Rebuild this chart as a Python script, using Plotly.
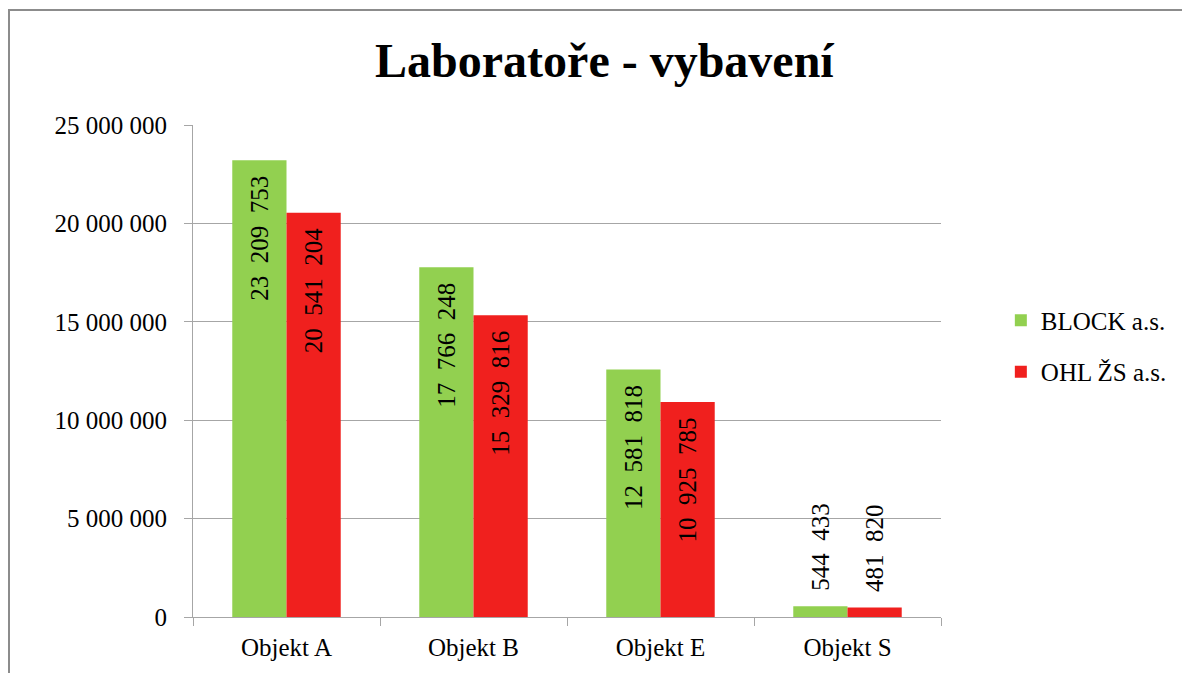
import plotly.graph_objects as go

categories = ["Objekt A", "Objekt B", "Objekt E", "Objekt S"]
block_values = [23209753, 17766248, 12581818, 544433]
ohl_values = [20541204, 15329816, 10925785, 481820]
series_names = ["BLOCK a.s.", "OHL ŽS a.s."]
y_ticks = [0, 5000000, 10000000, 15000000, 20000000, 25000000]

GREEN = "#92D050"
RED = "#F0201E"
FONT = "Liberation Serif"
NB = "\u00a0"


def fmt(v):
    return f"{v:,}".replace(",", NB * 2)


def positions(values):
    return ["inside" if v > 2000000 else "outside" for v in values]


def labels(values):
    out = []
    for v, p in zip(values, positions(values)):
        out.append(fmt(v) + NB * 2 if p == "inside" else NB * 2 + fmt(v))
    return out


fig = go.Figure()
for name, vals, col, grp in [(series_names[0], block_values, GREEN, "g1"),
                             (series_names[1], ohl_values, RED, "g2")]:
    fig.add_trace(go.Bar(
        x=categories, y=vals, name=name, legendgroup=grp,
        marker=dict(color=col, line=dict(width=0)),
        text=labels(vals),
        textposition=positions(vals),
        insidetextanchor="end",
        textangle=-90,
        constraintext="none",
        textfont=dict(family=FONT, size=25, color="black"),
        cliponaxis=False,
    ))

# page body has an 8px margin: plot area spans page x 193..941, y 125..617
fig.update_layout(
    width=1190, height=673,
    margin=dict(l=185, r=257, t=117, b=64),
    paper_bgcolor="white", plot_bgcolor="white",
    barmode="group", bargap=0.42, bargroupgap=0,
    separators=", ",
    font=dict(family=FONT, size=25, color="black"),
    title=dict(text="<b>Laboratoře - vybavení</b>", x=0.55, xref="paper", xanchor="center",
               y=1 - 52 / 673, yref="container", yanchor="middle",
               font=dict(family=FONT, size=48, color="black")),
    legend=dict(x=1.08, xanchor="left", y=0.551, yanchor="middle",
                font=dict(family=FONT, size=25, color="black"),
                tracegroupgap=16, traceorder="grouped", bgcolor="rgba(0,0,0,0)"),
    showlegend=True,
)
fig.update_yaxes(range=[0, 25000000], tickvals=y_ticks, tickformat=",d",
                 showgrid=True, gridcolor="#A6A6A6", gridwidth=1,
                 showline=True, linecolor="#A6A6A6", linewidth=1,
                 ticks="outside", ticklen=8, tickcolor="#A6A6A6",
                 ticklabelstandoff=12,
                 zeroline=False, tickfont=dict(family=FONT, size=25))
fig.update_xaxes(showline=True, linecolor="#A6A6A6", linewidth=1,
                 ticks="outside", ticklen=8, tickcolor="#A6A6A6", tickson="boundaries",
                 ticklabelstandoff=8,
                 showgrid=False, tickfont=dict(family=FONT, size=25))

# outer chart border (partially outside the visible area, as in the reference)
fig.add_shape(type="rect", xref="paper", yref="paper",
              x0=(9 - 193) / 748, x1=1.4, y0=-0.3, y1=(617 - 10) / 492,
              line=dict(color="#8C8C8C", width=2), fillcolor="rgba(0,0,0,0)", layer="below")

fig.write_html("out.html")
